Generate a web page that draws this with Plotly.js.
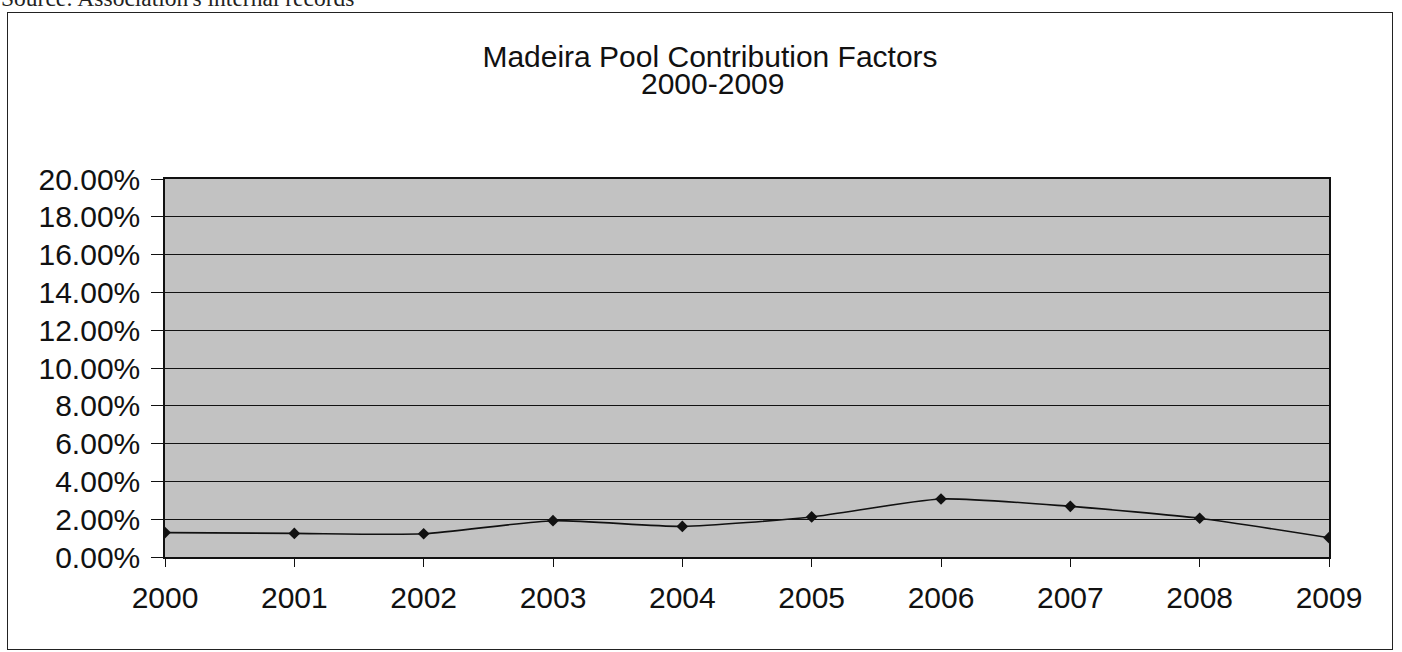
<!DOCTYPE html>
<html>
<head>
<meta charset="utf-8">
<script src="https://cdn.plot.ly/plotly-3.0.1.min.js"></script>
<style>
  html, body { margin: 0; padding: 0; background: #ffffff; }
  #wrap { position: relative; width: 1402px; height: 652px; overflow: hidden; }
  #chart { position: absolute; left: 0; top: 0; width: 1402px; height: 652px; }
  #frame { position: absolute; left: 7px; top: 12px; width: 1384px; height: 636px; border: 1.5px solid #222; pointer-events: none; }
  #source { position: absolute; left: 1px; top: -15px; font-family: "Liberation Serif", "Times New Roman", serif; font-size: 23.5px; color: #222; white-space: nowrap; }
</style>
</head>
<body>
<div id="wrap">
  <div id="source">Source: Association's internal records</div>
  <div id="frame"></div>
  <div id="chart"></div>
</div>
<script>
const years = ["2000", "2001", "2002", "2003", "2004", "2005", "2006", "2007", "2008", "2009"];
const contributionFactor = [1.29, 1.25, 1.23, 1.92, 1.62, 2.12, 3.07, 2.68, 2.05, 1.02];
const yTickValues = [0, 2, 4, 6, 8, 10, 12, 14, 16, 18, 20];
const yTickLabels = ["0.00%", "2.00%", "4.00%", "6.00%", "8.00%", "10.00%", "12.00%", "14.00%", "16.00%", "18.00%", "20.00%"];
const titleLine1 = "Madeira Pool Contribution Factors";
const titleLine2 = "2000-2009";

const font = "Liberation Sans, Arial, sans-serif";
const fs = 30;

const trace = {
  x: years,
  y: contributionFactor,
  type: "scatter",
  mode: "lines+markers",
  line: { color: "#111111", width: 1.6, shape: "spline", smoothing: 0.6 },
  marker: { symbol: "diamond", size: 9, color: "#111111" },
  hoverinfo: "x+y",
  showlegend: false
};

const layout = {
  width: 1402,
  height: 652,
  margin: { l: 165, r: 73, t: 179, b: 95, pad: 0 },
  paper_bgcolor: "rgba(0,0,0,0)",
  plot_bgcolor: "#c2c2c2",
  font: { family: font, size: fs, color: "#111111" },
  title: {
    text: titleLine1,
    font: { family: font, size: fs, color: "#111111" },
    x: 710 / 1402, xanchor: "center",
    y: 1 - 56 / 652, yanchor: "middle",
    yref: "container"
  },
  annotations: [{
    text: titleLine2,
    xref: "paper", yref: "paper",
    x: (712 - 165) / 1164, xanchor: "center",
    y: 1 + (179 - 84) / 378, yanchor: "middle",
    showarrow: false,
    font: { family: font, size: fs, color: "#111111" }
  }],
  xaxis: {
    type: "category",
    range: [0, 9],
    showgrid: false,
    zeroline: false,
    showline: true,
    linecolor: "#111111",
    linewidth: 1.5,
    mirror: true,
    ticks: "outside",
    ticklen: 8,
    tickwidth: 1,
    tickcolor: "#111111",
    ticklabelstandoff: 5,
    tickfont: { family: font, size: fs, color: "#111111" }
  },
  yaxis: {
    range: [0, 20],
    tickvals: yTickValues,
    ticktext: yTickLabels,
    showgrid: true,
    gridcolor: "#111111",
    gridwidth: 1,
    zeroline: false,
    showline: true,
    linecolor: "#111111",
    linewidth: 1.5,
    mirror: true,
    ticks: "outside",
    ticklen: 12,
    tickwidth: 1,
    tickcolor: "#111111",
    ticklabelstandoff: 5,
    tickfont: { family: font, size: fs, color: "#111111" }
  }
};

Plotly.newPlot("chart", [trace], layout, { displayModeBar: false });
</script>
</body>
</html>
